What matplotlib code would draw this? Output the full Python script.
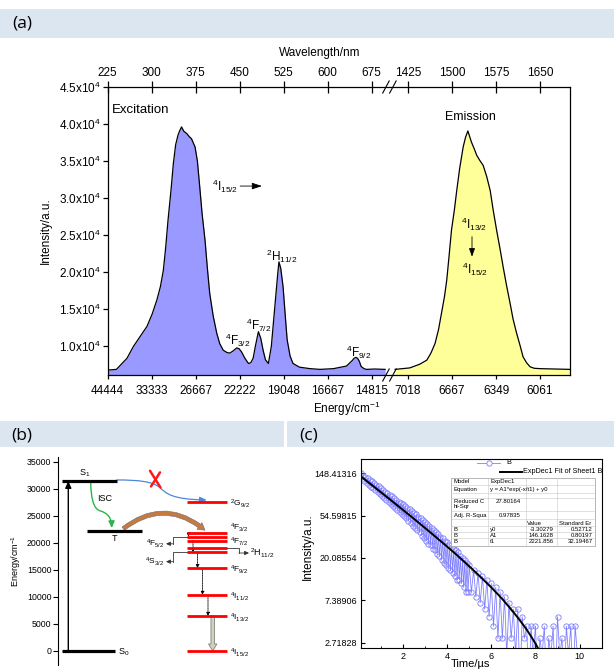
import numpy as np
import matplotlib
matplotlib.use("Agg")
import matplotlib.pyplot as plt
from matplotlib.patches import Rectangle, FancyArrowPatch
from matplotlib.path import Path
from matplotlib.ticker import NullLocator, MultipleLocator, FixedLocator, FixedFormatter

plt.rcParams['font.family'] = ['Liberation Sans', 'DejaVu Sans']
plt.rcParams['mathtext.fontset'] = 'custom'
plt.rcParams['mathtext.rm'] = 'Liberation Sans'
plt.rcParams['mathtext.it'] = 'Liberation Sans:italic'
plt.rcParams['mathtext.bf'] = 'Liberation Sans:bold'
plt.rcParams['mathtext.default'] = 'regular'
plt.rcParams['axes.linewidth'] = 0.9

# ---------------- data: panel (a) ----------------
exc_wl = [225, 240, 258, 269, 280, 292, 301, 309, 315, 320, 324, 328, 333, 337, 341, 345,
          348, 351, 355, 360, 364, 368, 374, 378, 382, 386, 391, 395, 399, 405, 411, 416,
          422, 428, 433, 439, 445, 449, 453, 459, 465, 469, 473, 477, 482, 486, 490, 494,
          499, 504, 508, 512, 515, 517, 520, 524, 528, 531, 536, 541, 552, 570, 587, 610,
          632, 638, 642, 645, 648, 651, 654, 657, 662, 666, 680, 698]
exc_int = [6700, 6800, 8300, 9900, 11200, 12600, 14300, 16200, 18000, 20200, 23300, 27000,
           31000, 34600, 37200, 38500, 39100, 39600, 39000, 38700, 38300, 38000, 36900, 35000,
           31500, 27900, 24300, 20500, 17100, 14000, 11700, 10300, 9400, 9100, 9000, 9300,
           9700, 9600, 9200, 8300, 7600, 7700, 8300, 10000, 11900, 11000, 9400, 8100,
           7600, 9900, 13500, 17100, 19800, 21350, 20500, 18000, 13800, 10800, 8600, 7600,
           7100, 6900, 6800, 6900, 7250, 7700, 8000, 8300, 8430, 8300, 7900, 7200, 6900,
           6800, 6850, 6800]
em_wl = [1403, 1428, 1445, 1457, 1464, 1471, 1477, 1482, 1487, 1491, 1495, 1499, 1504, 1508,
         1513, 1519, 1523, 1527, 1530, 1533, 1538, 1542, 1547, 1553, 1559, 1565, 1570, 1576,
         1582, 1587, 1593, 1599, 1604, 1610, 1616, 1621, 1627, 1633, 1640, 1650, 1675, 1701]
em_int = [6800, 7000, 7500, 8050, 9000, 10300, 12200, 14400, 16600, 18900, 22200, 25600,
          28400, 31000, 34000, 36900, 38200, 39050, 38300, 37560, 36600, 35770, 35100, 34400,
          32900, 31000, 28400, 25600, 23000, 20700, 18100, 15700, 13600, 11700, 10000, 8500,
          7700, 7150, 6950, 6900, 6850, 6800]
wl_ticks = [225, 300, 375, 450, 525, 600, 675, 1425, 1500, 1575, 1650]
energy_labels = ['44444', '33333', '26667', '22222', '19048', '16667', '14815',
                 '7018', '6667', '6349', '6061']
int_ticks = [1.0e4, 1.5e4, 2.0e4, 2.5e4, 3.0e4, 3.5e4, 4.0e4, 4.5e4]
int_labels = ['1.0x10$^4$', '1.5x10$^4$', '2.0x10$^4$', '2.5x10$^4$', '3.0x10$^4$',
              '3.5x10$^4$', '4.0x10$^4$', '4.5x10$^4$']

# ---------------- data: panel (b) ----------------
mol_names = ['S$_0$', 'T', 'S$_1$']
mol_energy = [0, 22200, 31400]
er_names = ['$^4$I$_{15/2}$', '$^4$I$_{13/2}$', '$^4$I$_{11/2}$', '$^4$F$_{9/2}$',
            '$^4$S$_{3/2}$', '$^2$H$_{11/2}$', '$^4$F$_{7/2}$', '$^4$F$_{5/2}$',
            '$^4$F$_{3/2}$', '$^2$G$_{9/2}$']
er_energy = [0, 6470, 10350, 15290, 18240, 19090, 20390, 21130, 21870, 27500]
energy_ticks_b = [0, 5000, 10000, 15000, 20000, 25000, 30000, 35000]

# ---------------- data: panel (c) ----------------
t_us = [0.10, 0.15, 0.20, 0.25, 0.30, 0.35, 0.40, 0.45, 0.50, 0.55,
        0.60, 0.65, 0.70, 0.75, 0.80, 0.85, 0.90, 0.95, 1.00, 1.05,
        1.10, 1.15, 1.20, 1.25, 1.30, 1.35, 1.40, 1.45, 1.50, 1.55,
        1.60, 1.65, 1.70, 1.75, 1.80, 1.85, 1.90, 1.95, 2.00, 2.05,
        2.10, 2.15, 2.20, 2.25, 2.30, 2.35, 2.40, 2.45, 2.50, 2.55,
        2.60, 2.65, 2.70, 2.75, 2.80, 2.85, 2.90, 2.95, 3.00, 3.05,
        3.10, 3.15, 3.20, 3.25, 3.30, 3.35, 3.40, 3.45, 3.50, 3.55,
        3.60, 3.65, 3.70, 3.75, 3.80, 3.85, 3.90, 3.95, 4.00, 4.05,
        4.10, 4.15, 4.20, 4.25, 4.30, 4.35, 4.40, 4.45, 4.50, 4.55,
        4.60, 4.65, 4.70, 4.75, 4.80, 4.85, 4.90, 4.95, 5.00,
        5.10, 5.20, 5.30, 5.40, 5.50, 5.60, 5.70, 5.80, 5.90, 6.00,
        6.10, 6.20, 6.30, 6.40, 6.50, 6.60, 6.70, 6.80, 6.90, 7.00,
        7.10, 7.20, 7.30, 7.40, 7.50, 7.60, 7.70, 7.80, 7.90, 8.00,
        8.10, 8.20, 8.30, 8.40, 8.50, 8.60, 8.70, 8.80, 8.90, 9.00,
        9.10, 9.20, 9.30, 9.40, 9.50, 9.60, 9.70, 9.80, 9.90]
counts = [150, 128, 140, 124, 136, 118, 131, 112, 127, 108,
          122, 104, 118, 99, 113, 95, 109, 90, 104, 86,
          100, 83, 96, 79, 92, 76, 89, 71, 86, 68,
          82, 65, 79, 62, 76, 59, 73, 56, 71, 54,
          68, 51, 66, 48, 63, 46, 61, 43, 58, 41,
          56, 39, 53, 37, 51, 34, 49, 32, 47, 30,
          45, 28, 43, 27, 41, 25, 39, 24, 37, 22,
          35, 21, 33, 19, 32, 18, 30, 17, 29, 16,
          27, 15, 26, 14, 25, 13, 24, 12, 23, 12,
          21, 11, 20, 10, 19, 9, 18, 9, 17,
          9, 15, 8, 14, 7, 13, 6, 12, 5, 11,
          4, 10, 3, 9, 3, 8, 2, 7, 3, 6,
          2, 6, 1, 5, 3, 4, 1, 4, 2, 4,
          1, 3, 2, 4, 1, 3, 2, 4, 1, 5,
          2, 3, 1, 4, 2, 4, 1, 4, 2]
# ExpDec1 fit curve as drawn in the figure
fit_t = [0.1, 0.5, 1.0, 1.5, 2.0, 2.5, 3.0, 3.5, 4.0, 4.5, 5.0, 5.5, 6.0, 6.5, 7.0,
         7.25, 7.5, 7.65, 7.8, 8.0, 8.15]
fit_val = [137.1, 116.4, 94.7, 76.9, 62.4, 50.5, 40.7, 32.7, 26.2, 20.9, 16.5, 12.9, 10.0,
           7.6, 5.59, 4.74, 3.98, 3.56, 3.15, 2.66, 2.31]
time_ticks = [2, 4, 6, 8, 10]
log_ticks = [2.71828, 7.38906, 20.08554, 54.59815, 148.41316]
log_labels = ['2.71828', '7.38906', '20.08554', '54.59815', '148.41316']
table_rows = [
    ['Model', 'ExpDec1', '', ''],
    ['Equation', 'y = A1*exp(-x/t1) + y0', '', ''],
    ['Reduced C\nhi-Sqr', '27.80164', '', ''],
    ['Adj. R-Squa', '0.97835', '', ''],
    ['', '', 'Value', 'Standard Er'],
    ['B', 'y0', '-3.30279', '0.52712'],
    ['B', 'A1', '146.1628', '0.80197'],
    ['B', 't1', '2221.856', '32.19467'],
]

# ---------------- figure ----------------
W, H = 614, 672
fig = plt.figure(figsize=(W / 100, H / 100), dpi=100)


def fx(px):
    return px / W


def fy(py):
    return 1 - py / H


def rect(x0, y0, x1, y1):
    return [fx(x0), fy(y1), (x1 - x0) / W, (y1 - y0) / H]


band_col = '#dce6f1'
fig.add_artist(Rectangle((0, fy(38)), 1, 29 / H, transform=fig.transFigure, fc=band_col, ec='none'))
fig.add_artist(Rectangle((0, fy(447)), fx(284), 26 / H, transform=fig.transFigure, fc=band_col, ec='none'))
fig.add_artist(Rectangle((fx(287), fy(447)), 1 - fx(287), 26 / H, transform=fig.transFigure, fc=band_col, ec='none'))
fig.text(fx(12), fy(24), '(a)', fontsize=12.5, family='Open Sans', va='center', ha='left')
fig.text(fx(11), fy(435), '(b)', fontsize=12.5, family='Open Sans', va='center', ha='left')
fig.text(fx(299), fy(435), '(c)', fontsize=12.5, family='Open Sans', va='center', ha='left')

# ---------------- panel (a) ----------------
BRK_L, BRK_R, GAP = 700.0, 1400.0, 12.0


def fwd(x):
    x = np.asarray(x, float)
    return np.where(x <= BRK_L, x,
                    np.where(x >= BRK_R, x - BRK_R + BRK_L + GAP,
                             BRK_L + (x - BRK_L) * GAP / (BRK_R - BRK_L)))


def inv(y):
    y = np.asarray(y, float)
    return np.where(y <= BRK_L, y,
                    np.where(y >= BRK_L + GAP, y - BRK_L - GAP + BRK_R,
                             BRK_L + (y - BRK_L) * (BRK_R - BRK_L) / GAP))


rect_a = rect(107.6, 87, 570, 375)
axa = fig.add_axes(rect_a)
axa.set_xscale('function', functions=(fwd, inv))
axa.set_xlim(225, 1701)
axa.set_ylim(6040, 45000)
axa.fill_between(exc_wl, 0, exc_int, color='#9999ff', lw=0)
axa.plot(exc_wl, exc_int, color='black', lw=0.9)
axa.fill_between(em_wl, 0, em_int, color='#ffff99', lw=0)
axa.plot(em_wl, em_int, color='black', lw=0.9)
axa.set_xticks(wl_ticks)
axa.set_xticklabels(energy_labels)
axa.xaxis.set_minor_locator(NullLocator())
axa.set_yticks(int_ticks)
axa.set_yticklabels(int_labels)
axa.tick_params(axis='x', direction='out', length=3, width=0.9, labelsize=8.5, pad=4, top=False)
axa.tick_params(axis='y', direction='out', length=3.5, width=0.9, labelsize=8.5, pad=1.5)

axt = fig.add_axes(rect_a, frameon=False)
axt.set_xscale('function', functions=(fwd, inv))
axt.set_xlim(225, 1701)
axt.xaxis.tick_top()
axt.set_xticks(wl_ticks)
axt.set_xticklabels([str(w) for w in wl_ticks])
axt.xaxis.set_minor_locator(NullLocator())
axt.set_yticks([])
axt.patch.set_visible(False)
axt.tick_params(axis='x', direction='inout', length=8, width=0.9, labelsize=8.5, pad=2)

for xb in (0.602, 0.617):
    for yb in (0.0, 1.0):
        axa.plot([xb - 0.007, xb + 0.007], [yb - 0.021, yb + 0.021], transform=axa.transAxes,
                 color='black', lw=0.8, clip_on=False)

axa.text(-0.133, 0.5, 'Intensity/a.u.', transform=axa.transAxes, rotation=90,
         ha='center', va='center', fontsize=8.5)
axa.text(0.517, -0.118, 'Energy/cm$^{-1}$', transform=axa.transAxes,
         ha='center', va='center', fontsize=8.5)
axa.text(0.459, 1.118, 'Wavelength/nm', transform=axa.transAxes,
         ha='center', va='center', fontsize=8.5)

axa.text(232, 41900, 'Excitation', fontsize=9.5, ha='left', va='center')
axa.text(1531, 40900, 'Emission', fontsize=9, ha='center', va='center')
axa.text(426, 31500, '$^4$I$_{15/2}$', fontsize=8.5, ha='center', va='center')
axa.annotate('', xy=(488, 31600), xytext=(451, 31600),
             arrowprops=dict(arrowstyle='-|>,head_length=0.6,head_width=0.2', color='black', lw=0.6,
                             shrinkA=0, shrinkB=0))
axa.text(447, 10770, '$^4$F$_{3/2}$', fontsize=8.5, ha='center', va='center')
axa.text(482, 12800, '$^4$F$_{7/2}$', fontsize=8.5, ha='center', va='center')
axa.text(522, 22040, '$^2$H$_{11/2}$', fontsize=8.5, ha='center', va='center')
axa.text(653, 9050, '$^4$F$_{9/2}$', fontsize=8.5, ha='center', va='center')
axa.text(1538, 26470, '$^4$I$_{13/2}$', fontsize=8.5, ha='center', va='center')
axa.annotate('', xy=(1534, 22040), xytext=(1534, 24750),
             arrowprops=dict(arrowstyle='-|>,head_length=0.5,head_width=0.18', color='black', lw=0.6,
                             shrinkA=0, shrinkB=0))
axa.text(1539, 20380, '$^4$I$_{15/2}$', fontsize=8.5, ha='center', va='center')

# ---------------- panel (b) ----------------
axb = fig.add_axes(rect(58.3, 456.7, 290, 665))
axb.set_xlim(58.3, 290)
axb.set_ylim(-2600, 35900)
for s in ('top', 'right', 'bottom'):
    axb.spines[s].set_visible(False)
axb.spines['left'].set_linewidth(0.8)
axb.set_xticks([])
axb.set_yticks(energy_ticks_b)
axb.set_yticklabels([str(v) for v in energy_ticks_b])
axb.tick_params(axis='y', direction='out', length=3.5, width=0.8, labelsize=6.3, pad=1.5)
axb.text(-0.18, 0.5, 'Energy/cm$^{-1}$', transform=axb.transAxes, rotation=90,
         ha='center', va='center', fontsize=6.5)

S0, T1, S1 = mol_energy
axb.plot([61.7, 115], [S0, S0], color='black', lw=2.3, solid_capstyle='butt')
axb.plot([61.7, 116.7], [S1, S1], color='black', lw=2.3, solid_capstyle='butt')
axb.plot([87.3, 141.7], [T1, T1], color='black', lw=2.3, solid_capstyle='butt')
axb.text(85, 32900, mol_names[2], fontsize=6.5, ha='center', va='center')
axb.text(115, 20800, mol_names[1], fontsize=6.5, ha='center', va='center')
axb.text(118, -200, mol_names[0], fontsize=6.5, ha='left', va='center')
axb.text(97, 28100, 'ISC', fontsize=6.5, ha='left', va='center')

axb.add_patch(FancyArrowPatch((68.3, S0), (68.3, S1), arrowstyle='-|>,head_length=4,head_width=1.8',
                              color='black', lw=1.0, shrinkA=0, shrinkB=0))
isc_path = Path([(90.7, 31100), (91.0, 28500), (93.0, 26300), (100.0, 25900),
                 (107.0, 25500), (111.5, 24800), (111.7, 22700)],
                [Path.MOVETO, Path.CURVE4, Path.CURVE4, Path.CURVE4, Path.CURVE4, Path.CURVE4, Path.CURVE4])
axb.add_patch(FancyArrowPatch(path=isc_path, arrowstyle='-|>,head_length=4,head_width=1.8',
                              color='#2db34a', lw=1.0, transform=axb.transData))
blue_path = Path([(116.7, 31600), (140, 31600), (152, 31300), (160, 30200),
                  (166, 29100), (172, 28000), (206.7, 27900)],
                 [Path.MOVETO, Path.CURVE4, Path.CURVE4, Path.CURVE4, Path.CURVE4, Path.CURVE4, Path.CURVE4])
axb.add_patch(FancyArrowPatch(path=blue_path, arrowstyle='-|>,head_length=4,head_width=1.8',
                              color='#4f86d9', lw=0.9, transform=axb.transData))
axb.plot([150, 160.5], [33300, 30200], color='#ff1a1a', lw=1.8, solid_capstyle='round')
axb.plot([151, 160], [30400, 33000], color='#ff1a1a', lw=1.8, solid_capstyle='round')

axb.add_patch(FancyArrowPatch((123.3, 22600), (205, 22300), connectionstyle='arc3,rad=-0.4',
                              arrowstyle='simple,head_length=5,head_width=6,tail_width=3',
                              fc='#c57a3f', ec='#6f6a78', lw=0.4, shrinkA=0, shrinkB=0))

for name, e in zip(er_names, er_energy):
    axb.plot([186.7, 227.3], [e, e], color='#ff0000', lw=2.0, solid_capstyle='butt')

right_labels = {'$^4$I$_{15/2}$': 0, '$^4$I$_{13/2}$': 6470, '$^4$I$_{11/2}$': 10350,
                '$^4$F$_{9/2}$': 15290, '$^4$F$_{7/2}$': 20390, '$^4$F$_{3/2}$': 21870,
                '$^2$G$_{9/2}$': 27500}
for name, e in zip(er_names, er_energy):
    if name in right_labels:
        dy = 900 if name == '$^4$F$_{3/2}$' else -300
        axb.text(229.5, e + dy, name, fontsize=6, ha='left', va='center')

e_F52 = er_energy[7]
e_S32 = er_energy[4]
e_H112 = er_energy[5]
axb.plot([186.7, 173, 173], [e_F52, e_F52, 19800], color='#333333', lw=0.6)
axb.add_patch(FancyArrowPatch((173, 19800), (166, 19800), arrowstyle='-|>,head_length=2.5,head_width=1.2',
                              color='#333333', lw=0.6, shrinkA=0, shrinkB=0))
axb.text(164.5, 19800, er_names[7], fontsize=6, ha='right', va='center')
axb.plot([186.7, 173, 173], [e_S32, e_S32, 16500], color='#333333', lw=0.6)
axb.add_patch(FancyArrowPatch((173, 16500), (166, 16500), arrowstyle='-|>,head_length=2.5,head_width=1.2',
                              color='#333333', lw=0.6, shrinkA=0, shrinkB=0))
axb.text(164.5, 16500, er_names[4], fontsize=6, ha='right', va='center')
axb.plot([227.3, 239, 239], [e_H112, e_H112, 18100], color='#333333', lw=0.6)
axb.add_patch(FancyArrowPatch((239, 18100), (249, 18100), arrowstyle='-|>,head_length=2.5,head_width=1.2',
                              color='#333333', lw=0.6, shrinkA=0, shrinkB=0))
axb.text(250, 18100, er_names[5], fontsize=6.5, ha='left', va='center')

nr_steps = [(188.5, 8, 7), (193, 6, 4), (197.5, 4, 3), (202.5, 3, 2), (208, 2, 1)]
for xs, i_from, i_to in nr_steps:
    axb.add_patch(FancyArrowPatch((xs, er_energy[i_from]), (xs, er_energy[i_to]),
                                  arrowstyle='-|>,head_length=2,head_width=1',
                                  color='black', lw=0.6, ls=(0, (1, 1)), shrinkA=0, shrinkB=0))
axb.add_patch(FancyArrowPatch((212.7, er_energy[1]), (212.7, er_energy[0]),
                              arrowstyle='simple,head_length=5,head_width=6,tail_width=2.5',
                              fc='#d2d2bc', ec='#7f7f7f', lw=0.6, shrinkA=0, shrinkB=0))

# ---------------- panel (c) ----------------
axc = fig.add_axes(rect(361, 459.3, 601.7, 647.7))
axc.set_yscale('log', base=np.e)
axc.set_xlim(0.1, 11.0)
axc.set_ylim(2.41, 206.0)
axc.plot(t_us, counts, color='#8080ff', lw=0.6, marker='o', ms=3.8, mfc='none', mec='#7b7bff', mew=0.6)
axc.plot(fit_t, fit_val, color='black', lw=1.4)
axc.yaxis.set_major_locator(FixedLocator(log_ticks))
axc.yaxis.set_major_formatter(FixedFormatter(log_labels))
axc.yaxis.set_minor_locator(NullLocator())
axc.set_xticks(time_ticks)
axc.xaxis.set_minor_locator(MultipleLocator(1))
axc.tick_params(axis='both', which='major', direction='in', length=3, width=0.8, labelsize=6.5)
axc.tick_params(axis='x', which='minor', direction='in', length=1.8, width=0.6)
axc.tick_params(axis='y', pad=3)
axc.tick_params(axis='x', pad=3)
for s in axc.spines.values():
    s.set_linewidth(0.8)
axc.text(-0.22, 0.534, 'Intensity/a.u.', transform=axc.transAxes, rotation=90,
         ha='center', va='center', fontsize=8.5)
axc.text(0.453, -0.062, 'Time/\u00b5s', transform=axc.transAxes, ha='center', va='top', fontsize=8)

# legend (drawn in axes fraction)
axc.plot([0.481, 0.578], [0.982, 0.982], transform=axc.transAxes, color='#8080ff', lw=0.6, clip_on=False)
axc.plot([0.53], [0.982], transform=axc.transAxes, marker='o', ms=3.8, mfc='white', mec='#7b7bff',
         mew=0.6, clip_on=False)
axc.text(0.605, 0.982, 'B', transform=axc.transAxes, fontsize=5.2, ha='left', va='center')
axc.plot([0.578, 0.668], [0.934, 0.934], transform=axc.transAxes, color='black', lw=1.4, clip_on=False)
axc.text(0.674, 0.934, 'ExpDec1 Fit of Sheet1 B', transform=axc.transAxes, fontsize=5.2,
         ha='left', va='center')

# result table
tx0, tx1, ty0, ty1 = 0.374, 0.972, 0.540, 0.899
axc.add_patch(Rectangle((tx0, ty0), tx1 - tx0, ty1 - ty0, transform=axc.transAxes,
                        fc='white', ec='#9a9a9a', lw=0.5, zorder=5))
for yl in (0.864, 0.823, 0.793, 0.726, 0.682, 0.646, 0.613, 0.581):
    axc.plot([tx0, tx1], [yl, yl], transform=axc.transAxes, color='#c8c8c8', lw=0.4, zorder=6)
for xl in (0.526, 0.686, 0.813):
    axc.plot([xl, xl], [ty0, ty1], transform=axc.transAxes, color='#c8c8c8', lw=0.4, zorder=6)
row_y = [0.881, 0.842, 0.762, 0.704, 0.660, 0.628, 0.597, 0.565]
tfs = 4.3
for ry, row in zip(row_y, table_rows):
    c1, c2, c3, c4 = row
    axc.text(0.386, ry, c1, transform=axc.transAxes, fontsize=tfs, ha='left', va='center', zorder=7,
             linespacing=0.95)
    if c3 == '' and c4 == '' and c1 in ('Reduced C\nhi-Sqr', 'Adj. R-Squa'):
        axc.text(0.663, ry + (0.013 if c1.startswith('Reduced') else 0), c2, transform=axc.transAxes,
                 fontsize=tfs, ha='right', va='center', zorder=7)
    else:
        axc.text(0.536, ry, c2, transform=axc.transAxes, fontsize=tfs, ha='left', va='center', zorder=7)
    if c3 == 'Value':
        axc.text(0.722, ry, c3, transform=axc.transAxes, fontsize=tfs, ha='center', va='center', zorder=7)
        axc.text(0.891, ry, c4, transform=axc.transAxes, fontsize=tfs, ha='center', va='center', zorder=7)
    else:
        axc.text(0.802, ry, c3, transform=axc.transAxes, fontsize=tfs, ha='right', va='center', zorder=7)
        axc.text(0.963, ry, c4, transform=axc.transAxes, fontsize=tfs, ha='right', va='center', zorder=7)

fig.savefig('out.png', dpi=100)
